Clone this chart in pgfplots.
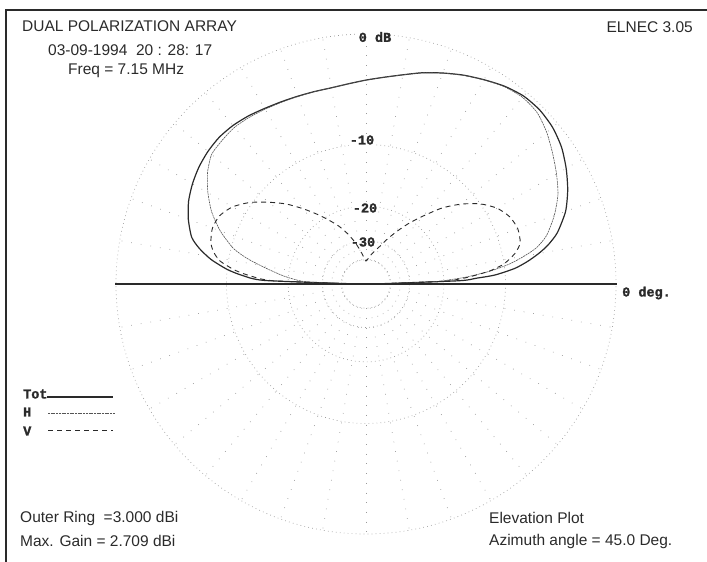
\documentclass[border=0pt]{standalone}
\usepackage{pgfplots}
\pgfplotsset{compat=1.18}
\usepackage{pgfplotstable}
\usepackage{fontspec}
\setmainfont{Liberation Sans}
\newfontfamily\lblfont{Liberation Mono}[BoldFeatures={FakeBold=1.6}]

% elevation pattern, dB relative to outer ring (ARRL log scale)
\pgfplotstableread{
ang tot h v
0 -60 -60 -60
2 -17 -22 -20
3 -14 -18.5 -17
4 -11.3 -15.5 -15.0
6 -8.8 -11.8 -12.0
8 -7.3 -9.3 -10.2
10 -6.1 -7.6 -9.2
12 -5.1 -6.2 -8.4
15 -4.0 -5.0 -7.7
20 -2.8 -3.8 -7.5
25 -2.0 -2.85 -7.8
30 -1.35 -2.2 -8.6
35 -0.8 -1.6 -10.0
40 -0.45 -1.0 -12.0
45 -0.29 -0.55 -14.5
50 -0.33 -0.45 -17.8
55 -0.6 -0.64 -21
60 -1.0 -1.02 -24.5
65 -1.4 -1.42 -28
70 -1.85 -1.86 -31.5
75 -2.3 -2.3 -34
80 -2.8 -2.8 -36.5
85 -3.2 -3.2 -39
90 -3.5 -3.5 -41
95 -3.75 -3.75 -38
100 -3.9 -3.9 -34
105 -3.9 -3.91 -30
110 -3.85 -3.88 -26.5
115 -3.75 -3.8 -23.5
120 -3.6 -3.68 -21.0
125 -3.4 -3.54 -18.5
130 -3.25 -3.45 -16.0
135 -3.2 -3.55 -13.6
140 -3.3 -3.7 -11.6
145 -3.5 -4.4 -9.7
150 -3.8 -5.4 -8.3
155 -4.2 -6.6 -7.5
160 -4.8 -8.2 -7.3
165 -5.6 -10.3 -7.6
168 -6.6 -12.5 -8.1
171 -8.0 -15.5 -9.0
174 -10.0 -18.5 -11.0
176 -12.0 -21 -13.2
178 -15.5 -25 -17
180 -60 -60 -60
}\patdata

\definecolor{ink}{HTML}{2A2A2A}
\definecolor{inkb}{HTML}{555555}
\definecolor{gridc}{HTML}{9A9A9A}

\begin{document}
\begin{tikzpicture}[x=1pt,y=1pt]
\path[use as bounding box] (0,0) rectangle (707,562);
% frame
\draw[ink, line width=1.1pt] (6,0) -- (6,552) -- (707,552);
% grid rings (0,-10,-20,-30,-40 dB)
\foreach \r in {250,139.5,77.9,43.5,24.3}
  \draw[gridc, line width=0.7pt, dash pattern=on 0.7pt off 3.3pt] (366,278) circle[radius=\r];
% radials
\foreach \a in {0,10,...,350}
  \draw[gridc, line width=0.7pt, dash pattern=on 0.7pt off 9pt] (366,278) ++(\a:24.3) -- ++(\a:225.7);
% ring labels
\begin{scope}[every node/.style={font=\lblfont\bfseries\fontsize{13.5}{15}\selectfont, fill=white, inner sep=1pt, text=ink}]
\node at (375,525) {0 dB};
\node at (362,422) {-10};
\node at (365,354) {-20};
\node at (363,320) {-30};
\end{scope}
\node[anchor=west, font=\lblfont\bfseries\fontsize{13.5}{15}\selectfont, text=ink, inner sep=0pt] at (622,269) {0 deg.};

\begin{axis}[anchor=origin, at={(366pt,278pt)}, x=250pt, y=250pt,
  xmin=-1, xmax=1, ymin=-1, ymax=1, hide axis, clip=false]
\addplot[ink, line width=1.2pt, no marks, smooth, tension=0.4]
  table[x expr={exp(0.0582669*(\thisrow{tot}))*cos(\thisrow{ang})},
        y expr={exp(0.0582669*(\thisrow{tot}))*sin(\thisrow{ang})}] {\patdata};
\addplot[inkb, line width=0.6pt, no marks, smooth, tension=0.4, dash pattern=on 2pt off 0.7pt]
  table[x expr={exp(0.0582669*(\thisrow{h}))*cos(\thisrow{ang})},
        y expr={exp(0.0582669*(\thisrow{h}))*sin(\thisrow{ang})}] {\patdata};
\addplot[ink, line width=0.9pt, no marks, smooth, tension=0.4, dash pattern=on 5pt off 4pt]
  table[x expr={exp(0.0582669*(\thisrow{v}))*cos(\thisrow{ang})},
        y expr={exp(0.0582669*(\thisrow{v}))*sin(\thisrow{ang})}] {\patdata};
\end{axis}

% horizon line
\draw[ink, line width=1.1pt] (115,278) -- (617,278);
\draw[ink, line width=1.8pt] (310,278) -- (410,278);

% header texts
\begin{scope}[every node/.style={font=\fontsize{15.5}{18}\selectfont, text=ink, inner sep=0pt}]
\node[anchor=west] at (22,535.5) {DUAL POLARIZATION ARRAY};
\node[anchor=west] at (48,512) {03-09-1994\ \ 20 : 28: 17};
\node[anchor=west] at (68,491) {Freq = 7.15 MHz};
\node[anchor=east] at (693,534.5) {ELNEC 3.05};
\node[anchor=west] at (20,44) {Outer Ring\ \ =3.000 dBi};
\node[anchor=west] at (20,21) {Max. Gain = 2.709 dBi};
\node[anchor=west] at (489,44) {Elevation Plot};
\node[anchor=west] at (489,21) {Azimuth angle = 45.0 Deg.};
\end{scope}

% legend
\begin{scope}[every node/.style={font=\lblfont\bfseries\fontsize{13.5}{15}\selectfont, text=ink, inner sep=0pt, anchor=west}]
\node at (23,168) {Tot};
\node at (23,150) {H};
\node at (23,131) {V};
\end{scope}
\draw[ink, line width=1.2pt] (47,165) -- (113,165);
\draw[inkb, line width=0.6pt, dash pattern=on 2pt off 0.7pt] (48,149) -- (115,149);
\draw[ink, line width=0.9pt, dash pattern=on 5pt off 4pt] (48,132) -- (113,132);
\end{tikzpicture}
\end{document}
